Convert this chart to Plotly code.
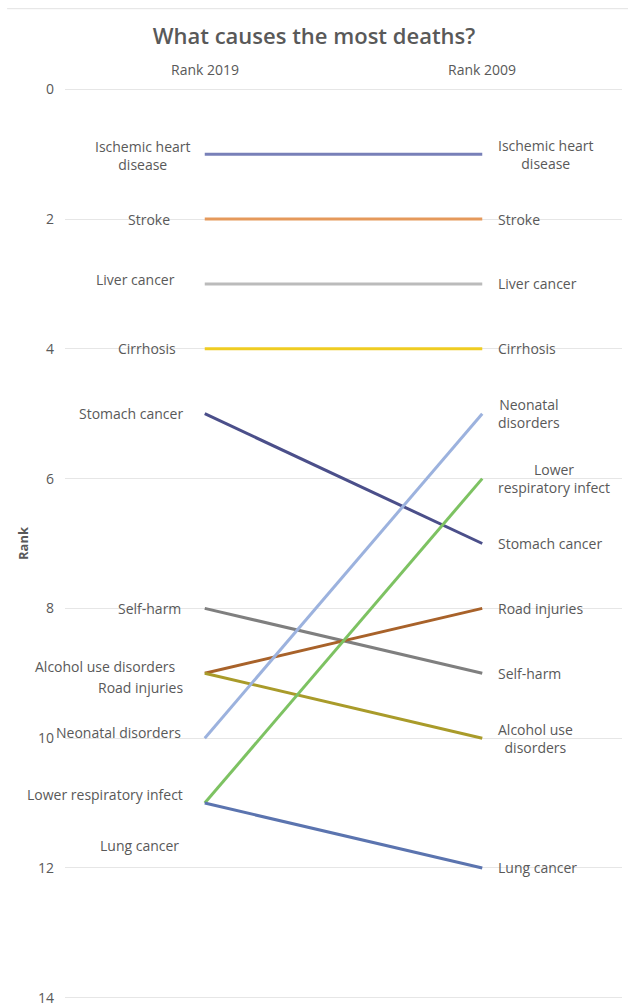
import plotly.graph_objects as go

# Cause-of-death ranks in the two years
causes = [
    "Ischemic heart disease", "Stroke", "Liver cancer", "Cirrhosis",
    "Stomach cancer", "Self-harm", "Road injuries", "Alcohol use disorders",
    "Neonatal disorders", "Lower respiratory infect", "Lung cancer",
]
rank_2019 = [1, 2, 3, 4, 5, 8, 9, 9, 10, 11, 11]
rank_2009 = [1, 2, 3, 4, 7, 9, 8, 10, 5, 6, 12]
years = ["Rank 2019", "Rank 2009"]
y_ticks = [0, 2, 4, 6, 8, 10, 12, 14]

# Presentation: line colours and label text / nudges (pixels)
colors = {
    "Ischemic heart disease": "#7880B8",
    "Stroke": "#E5995B",
    "Liver cancer": "#BBBBBB",
    "Cirrhosis": "#EFCC22",
    "Stomach cancer": "#4B4F8A",
    "Self-harm": "#7F7F7F",
    "Road injuries": "#A8622A",
    "Alcohol use disorders": "#A99B2A",
    "Neonatal disorders": "#9CB2DE",
    "Lower respiratory infect": "#7DC262",
    "Lung cancer": "#5B74AF",
}
left_text = {
    "Ischemic heart disease": "Ischemic heart<br>disease",
}
right_text = {
    "Ischemic heart disease": "Ischemic heart<br>disease",
    "Neonatal disorders": "Neonatal<br>disorders",
    "Lower respiratory infect": "Lower<br>respiratory infect",
    "Alcohol use disorders": "Alcohol use<br>disorders",
}
# (xshift, yshift) of the 2019-side labels, right edge relative to the line start
left_nudge = {
    "Ischemic heart disease": (-12, -1),
    "Stroke": (-33, 0),
    "Liver cancer": (-28, 4),
    "Cirrhosis": (-27, 0),
    "Stomach cancer": (-20, 0),
    "Self-harm": (-22, 0),
    "Road injuries": (-20, -14),
    "Alcohol use disorders": (-27, 7),
    "Neonatal disorders": (-22, 6),
    "Lower respiratory infect": (-20, 9),
    "Lung cancer": (-24, -42),
}

TEXT = "#595959"
FONT = "Open Sans"
LABEL_SIZE = 14

fig = go.Figure()
for c, r1, r2 in zip(causes, rank_2019, rank_2009):
    fig.add_trace(go.Scatter(
        x=[0, 1], y=[r1, r2], mode="lines", name=c,
        line=dict(color=colors[c], width=3), showlegend=False,
        hoverinfo="name+y",
    ))

annotations = []
for c, r1, r2 in zip(causes, rank_2019, rank_2009):
    dx, dy = left_nudge[c]
    annotations.append(dict(
        x=0, y=r1, xref="x", yref="y", text=left_text.get(c, c),
        showarrow=False, xanchor="right", yanchor="middle", align="center",
        xshift=dx, yshift=dy,
        font=dict(family=FONT, size=LABEL_SIZE, color=TEXT),
    ))
    annotations.append(dict(
        x=1, y=r2, xref="x", yref="y", text=right_text.get(c, c),
        showarrow=False, xanchor="left", yanchor="middle", align="center",
        xshift=14, yshift=0,
        font=dict(family=FONT, size=LABEL_SIZE, color=TEXT),
    ))
for i, yr in enumerate(years):
    annotations.append(dict(
        x=i, y=1, xref="x", yref="paper", text=yr, showarrow=False,
        xanchor="center", yanchor="middle", yshift=17,
        font=dict(family=FONT, size=LABEL_SIZE, color=TEXT),
    ))

fig.update_layout(
    width=628, height=1006,
    margin=dict(l=65, r=6, t=86, b=5),
    paper_bgcolor="white", plot_bgcolor="white",
    title=dict(text="What causes the most deaths?", x=0.5, xanchor="center",
               y=1 - 36 / 1006, yanchor="middle", yref="container",
               font=dict(family=FONT, size=22, color=TEXT, weight=600)),
    xaxis=dict(range=[-0.5036, 1.5036], showgrid=False, zeroline=False,
               showticklabels=False, fixedrange=True, automargin=False),
    yaxis=dict(range=[14.05, -0.05], tickvals=y_ticks, showgrid=True,
               gridcolor="#E6E6E6", gridwidth=1, zeroline=False,
               tickfont=dict(family=FONT, size=14, color=TEXT),
               ticklabelstandoff=10, ticklabeloverflow="allow",
               automargin=False,
               title=dict(text="<b>Rank</b>", standoff=6,
                          font=dict(family=FONT, size=13, color=TEXT))),
    annotations=annotations,
    shapes=[dict(type="line", xref="paper", yref="paper",
                 x0=-0.104, x1=1.02, y0=1.0845, y1=1.0845,
                 line=dict(color="#E3E3E3", width=1))],
)

fig.write_html("out.html")
